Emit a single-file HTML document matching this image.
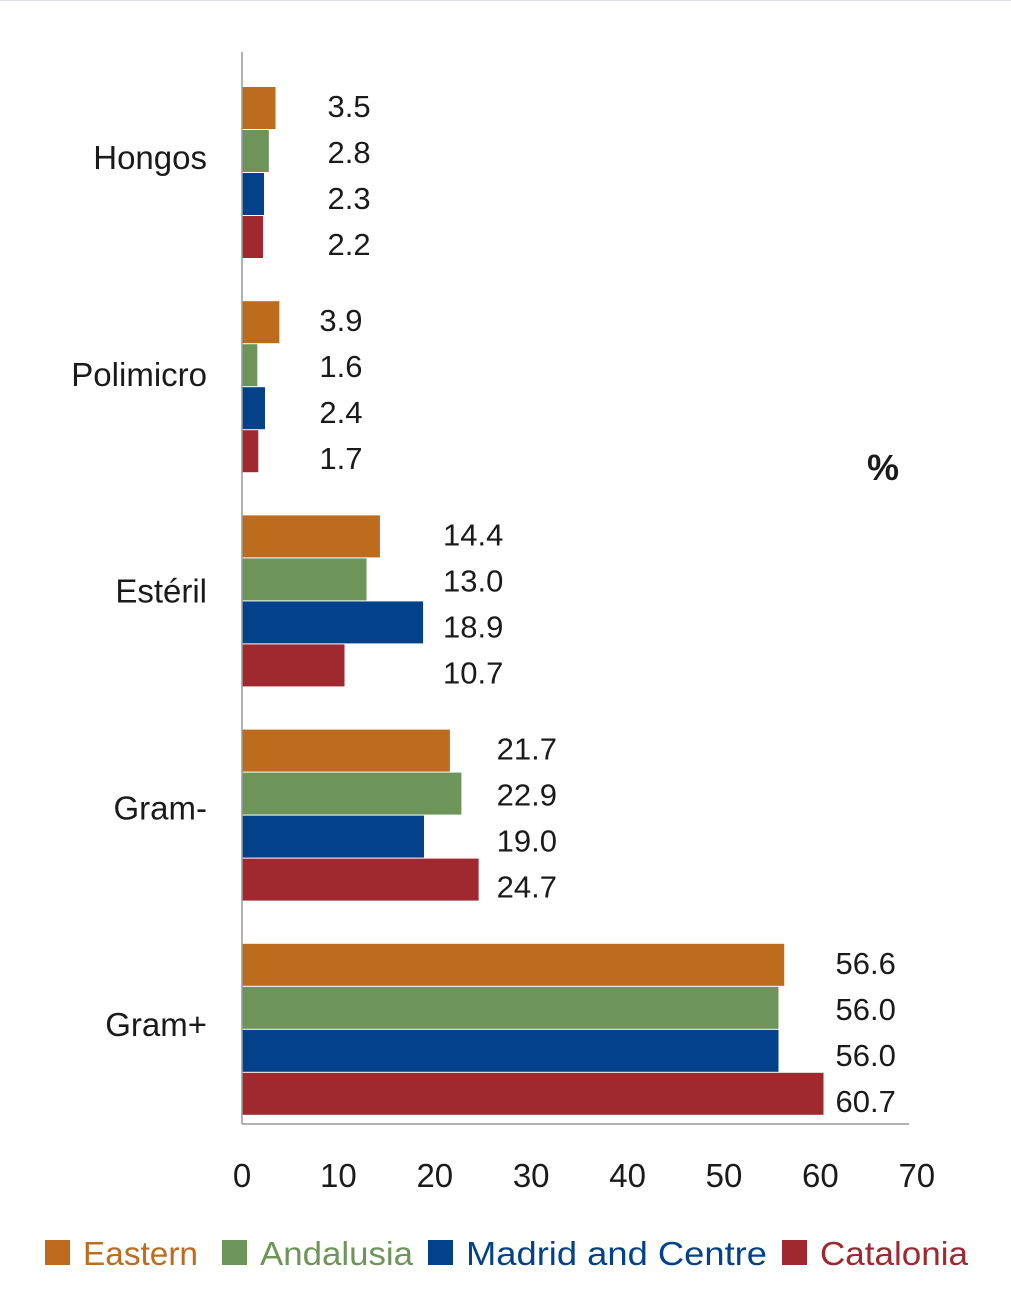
<!DOCTYPE html>
<html><head><meta charset="utf-8"><style>
html,body{margin:0;padding:0;background:#fff;}
svg{display:block;}
text{font-family:"Liberation Sans",sans-serif;fill:#1a1a1a;}
</style></head><body>
<svg id="chart" width="1011" height="1302">
<line x1="0" y1="0.5" x2="1011" y2="0.5" stroke="#dde0ea" stroke-width="1"/>
<g id="plot"></g>
</svg>
<script>
const categories = ["Hongos","Polimicro","Estéril","Gram-","Gram+"];
const seriesNames = ["Eastern","Andalusia","Madrid and Centre","Catalonia"];
const eastern = [3.5,3.9,14.4,21.7,56.6];
const andalusia = [2.8,1.6,13.0,22.9,56.0];
const madrid = [2.3,2.4,18.9,19.0,56.0];
const catalonia = [2.2,1.7,10.7,24.7,60.7];
const xTicks = [0,10,20,30,40,50,60,70];
const labelNudge = [40,28,8,6,0];

const series = [eastern,andalusia,madrid,catalonia];
const colors = ["#BD6B1C","#6E9559","#03428A","#A0282F"];
const x0 = 242, pxPer = 9.58;
const xs = v => x0 + v*pxPer;
const groupTop = i => 87 + i*214.2;
const barH = 43;
const svgNS = "http://www.w3.org/2000/svg";
const g = document.getElementById('plot');
function mk(tag, attrs, txt){
  const e = document.createElementNS(svgNS, tag);
  for (const k in attrs) e.setAttribute(k, attrs[k]);
  if (txt !== undefined) e.textContent = txt;
  g.appendChild(e); return e;
}
categories.forEach((c,i)=>{
  const top = groupTop(i);
  const t = mk('text',{x:207,y:169+i*216.75,'text-anchor':'end','font-size':33},c);
  
  
  const mx = Math.max(...series.map(s=>s[i]));
  series.forEach((s,j)=>{
    const y = top + j*barH;
    const r = mk('rect',{x:x0,y:y,width:xs(s[i])-x0,height:barH-1,fill:colors[j]});
    
    
    const l = mk('text',{x:xs(mx)+12+labelNudge[i],y:top+30+j*46,'font-size':31},s[i].toFixed(1));
    
    
  });
});
const ya = mk('line',{x1:x0,y1:52,x2:x0,y2:1124,stroke:'#999','stroke-width':1.5});


const xa = mk('line',{x1:x0,y1:1124,x2:909,y2:1124,stroke:'#999','stroke-width':1.5});


xTicks.forEach(v=>{
  const t = mk('text',{x:xs(v)+(v>0?v*0.06:0),y:1187,'text-anchor':'middle','font-size':33},String(v));
  
  
});
const pct = mk('text',{x:883,y:480,'text-anchor':'middle','font-size':36,'font-weight':'bold'},'%');


const legX = [45,222,428,782];
const legW = [115,153,301,148];
seriesNames.forEach((n,j)=>{
  const r = mk('rect',{x:legX[j],y:1240,width:25,height:25,fill:colors[j]});
  
  
  const t = mk('text',{x:legX[j]+38,y:1265,'font-size':33,fill:colors[j],textLength:legW[j],lengthAdjust:'spacingAndGlyphs'},n);
  t.setAttribute('style','fill:'+colors[j]);
  
  
});
</script>
</body></html>
